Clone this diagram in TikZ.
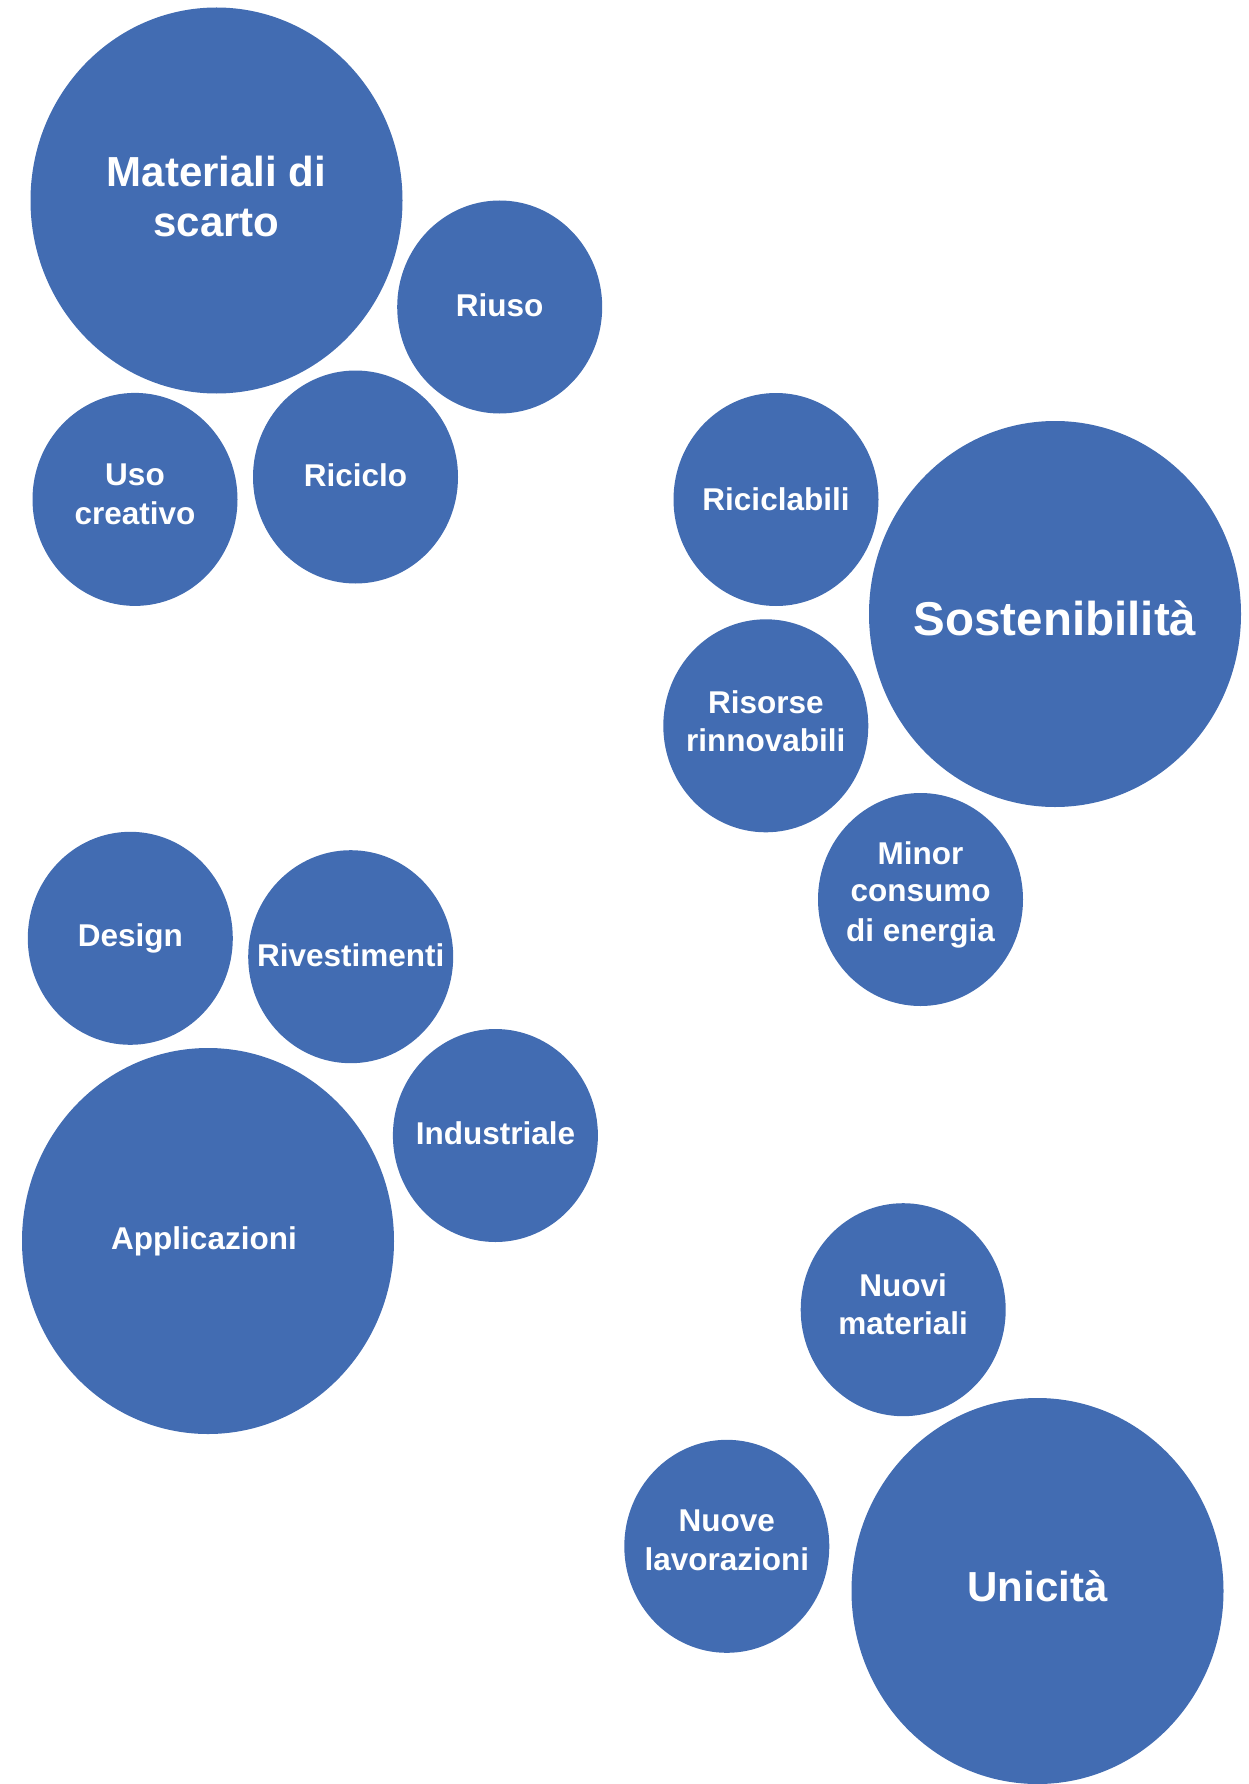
\documentclass[tikz,border=0pt]{standalone}
\usepackage{fontspec}
\setmainfont{Liberation Sans}
\usetikzlibrary{shapes.geometric}
\definecolor{bub}{RGB}{66,108,178}
\begin{document}
\begin{tikzpicture}[x=1pt,y=-1pt,
  big/.style={ellipse, fill=bub, draw=none, minimum width=372pt, minimum height=386pt, inner sep=0pt},
  small/.style={ellipse, fill=bub, draw=none, minimum width=205pt, minimum height=213pt, inner sep=0pt},
  txt/.style={text=white, font=\bfseries\fontsize{31.5}{37.8}\selectfont, anchor=base, inner sep=0pt},
  txtL/.style={txt, font=\bfseries\fontsize{42}{50}\selectfont},
  txtXL/.style={txt, font=\bfseries\fontsize{47.5}{57}\selectfont}]
\useasboundingbox (0,0) rectangle (1249,1784);
% bubbles
\node[big]   (mat) at (216.5,200.5) {};
\node[small] (riu) at (499.7,307) {};
\node[small] (uso) at (135,499.4) {};
\node[small] (ric) at (355.5,477) {};
\node[small] (rcb) at (776,499.5) {};
\node[big]   (sos) at (1055,614) {};
\node[small] (ris) at (765.8,725.8) {};
\node[small] (mic) at (920.5,899.5) {};
\node[small] (des) at (130.3,938.3) {};
\node[small] (riv) at (350.7,956.7) {};
\node[small] (ind) at (495.4,1135.5) {};
\node[big]   (app) at (208,1241) {};
\node[small] (nmt) at (903.2,1309.7) {};
\node[small] (nlv) at (726.8,1546.3) {};
\node[big]   (uni) at (1037.5,1591) {};
% labels
\node[txtL] (mat1) at (216.5,187) {Materiali di};
\node[txtL] (mat2) at (216.5,237) {scarto};
\node[txt] (riu1) at (499.7,316.7) {Riuso};
\node[txt] (uso1) at (135,485.3) {Uso};
\node[txt] (uso2) at (135,524.3) {creativo};
\node[txt] (ric1) at (355.5,486) {Riciclo};
\node[txt] (rcb1) at (776,510) {Riciclabili};
\node[txtXL] (sos1) at (1055,635) {Sostenibilità};
\node[txt] (ris1) at (765.8,713) {Risorse};
\node[txt] (ris2) at (765.8,751.7) {rinnovabili};
\node[txt] (mic1) at (920.5,864.3) {Minor};
\node[txt] (mic2) at (920.5,901.7) {consumo};
\node[txt] (mic3) at (920.5,941) {di energia};
\node[txt] (des1) at (130.3,946) {Design};
\node[txt] (riv1) at (350.7,966.7) {Rivestimenti};
\node[txt] (ind1) at (495.4,1144.3) {Industriale};
\node[txt] (app1) at (204,1249) {Applicazioni};
\node[txt] (nmt1) at (903.2,1296) {Nuovi};
\node[txt] (nmt2) at (903.2,1334) {materiali};
\node[txt] (nlv1) at (726.8,1531.7) {Nuove};
\node[txt] (nlv2) at (726.8,1570.7) {lavorazioni};
\node[txtL] (uni1) at (1037.5,1601.7) {Unicità};
\end{tikzpicture}
\end{document}
